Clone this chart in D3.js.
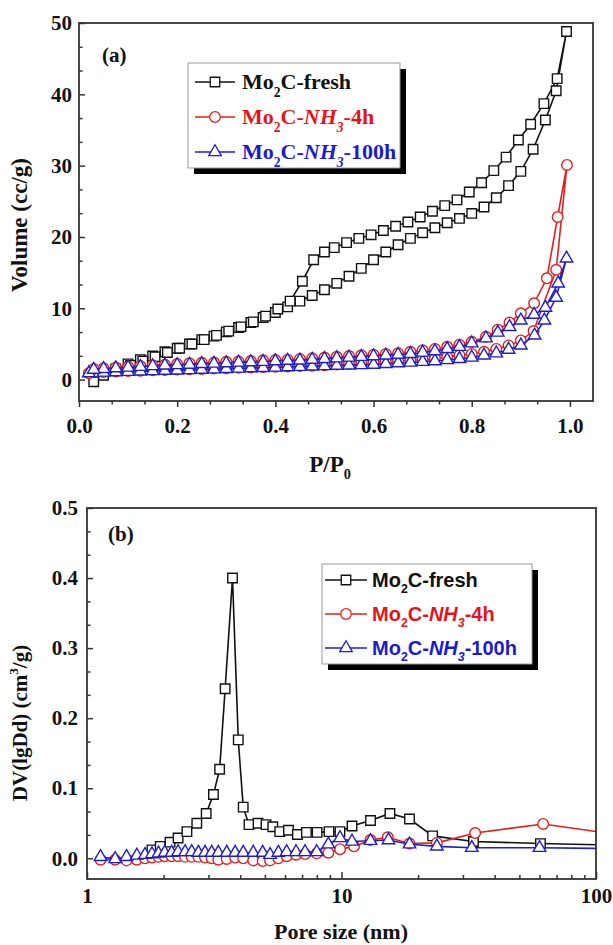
<!DOCTYPE html>
<html><head><meta charset="utf-8">
<script src="https://cdn.jsdelivr.net/npm/d3@7"></script>
<style>
body{margin:0;background:#fff}
svg{display:block}
</style></head><body>
<svg id="c" width="613" height="945"></svg>
<script>
// ---------------- DATA: panel (a) N2 isotherms ----------------
const freshAdsP = [0.03,0.05,0.075,0.10,0.125,0.15,0.175,0.20,0.225,0.25,0.275,0.30,0.325,0.35,0.375,0.40,0.425,0.45,0.475,0.50,0.525,0.55,0.575,0.60,0.625,0.65,0.675,0.70,0.725,0.75,0.775,0.80,0.825,0.85,0.875,0.90,0.925,0.95,0.972,0.993];
const freshAdsV = [-0.3,0.6,1.5,2.2,2.8,3.3,3.9,4.4,5.0,5.6,6.1,6.7,7.3,8.0,8.7,9.4,10.2,11.0,11.8,12.6,13.5,14.5,15.6,16.8,17.9,18.9,19.8,20.6,21.3,22.0,22.6,23.3,24.2,25.5,27.2,29.2,32.3,36.4,40.5,48.8];
const freshDesP = [0.974,0.947,0.92,0.895,0.87,0.845,0.82,0.795,0.77,0.745,0.72,0.695,0.67,0.645,0.62,0.595,0.57,0.545,0.52,0.50,0.478,0.455,0.43,0.405,0.38,0.355,0.33,0.305,0.28,0.255,0.23,0.205,0.18,0.155,0.13,0.105];
const freshDesV = [42.2,38.7,35.8,33.6,31.2,29.3,27.6,26.3,25.2,24.4,23.6,22.8,22.1,21.5,20.9,20.3,19.8,19.2,18.5,17.9,16.8,13.8,11.0,9.9,8.9,8.1,7.4,6.8,6.2,5.6,5.0,4.4,3.8,3.2,2.6,2.0];

const nh4AdsP = [0.02,0.05,0.075,0.10,0.125,0.15,0.175,0.20,0.225,0.25,0.275,0.30,0.325,0.35,0.375,0.40,0.425,0.45,0.475,0.50,0.525,0.55,0.575,0.60,0.625,0.65,0.675,0.70,0.725,0.75,0.775,0.80,0.825,0.85,0.875,0.90,0.926,0.972,0.994];
const nh4AdsV = [0.9,1.05,1.15,1.2,1.25,1.3,1.35,1.4,1.45,1.5,1.55,1.6,1.65,1.7,1.75,1.8,1.85,1.9,1.95,2.0,2.1,2.2,2.3,2.4,2.5,2.6,2.7,2.8,3.0,3.2,3.4,3.6,3.9,4.3,4.8,5.5,6.8,15.4,30.1];
const nh4DesP = [0.975,0.953,0.927,0.90,0.877,0.853,0.829,0.80,0.775,0.75,0.725,0.70,0.675,0.65,0.625,0.60,0.575,0.55,0.525,0.50,0.475,0.45,0.425,0.40,0.375,0.35,0.325,0.30,0.275,0.25,0.225,0.20,0.175,0.15,0.125,0.10,0.075,0.05,0.03];
const nh4DesV = [22.8,14.2,10.7,9.3,8.0,7.0,6.0,5.3,4.9,4.6,4.3,4.1,3.9,3.7,3.6,3.5,3.4,3.3,3.2,3.1,3.0,2.9,2.8,2.75,2.7,2.6,2.55,2.5,2.4,2.35,2.3,2.2,2.1,2.0,1.9,1.8,1.7,1.6,1.5];

const nh100AdsP = [0.02,0.05,0.075,0.10,0.125,0.15,0.175,0.20,0.225,0.25,0.275,0.30,0.325,0.35,0.375,0.40,0.425,0.45,0.475,0.50,0.525,0.55,0.575,0.60,0.625,0.65,0.675,0.70,0.725,0.75,0.775,0.80,0.825,0.85,0.875,0.90,0.928,0.948,0.972,0.993];
const nh100AdsV = [0.9,1.0,1.05,1.1,1.15,1.2,1.25,1.3,1.35,1.4,1.45,1.5,1.55,1.6,1.65,1.7,1.75,1.8,1.85,1.9,1.95,2.0,2.05,2.1,2.2,2.3,2.4,2.5,2.6,2.75,2.9,3.1,3.4,3.7,4.2,4.8,6.2,8.3,11.5,17.0];
const nh100DesP = [0.976,0.95,0.927,0.90,0.877,0.853,0.829,0.80,0.775,0.75,0.725,0.70,0.675,0.65,0.625,0.60,0.575,0.55,0.525,0.50,0.475,0.45,0.425,0.40,0.375,0.35,0.325,0.30,0.275,0.25,0.225,0.20,0.175,0.15,0.125,0.10,0.075,0.05,0.03];
const nh100DesV = [13.5,10.1,9.1,8.3,7.4,6.6,5.8,5.1,4.6,4.3,4.0,3.8,3.6,3.5,3.4,3.3,3.2,3.1,3.0,2.9,2.8,2.7,2.65,2.6,2.5,2.45,2.4,2.3,2.25,2.2,2.1,2.05,2.0,1.9,1.8,1.7,1.6,1.5,1.4];

const aXTicks = [0.0,0.2,0.4,0.6,0.8,1.0];
const aYTicks = [0,10,20,30,40,50];

// ---------------- DATA: panel (b) pore size distribution ----------------
const freshD  = [1.80,1.94,2.12,2.28,2.47,2.70,2.94,3.14,3.32,3.49,3.73,3.93,4.11,4.33,4.70,5.05,5.37,5.72,6.19,6.71,7.28,8.02,8.93,9.86,11.0,13.0,15.5,18.5,22.8,33.0,60.5,110];
const freshDV = [0.012,0.017,0.023,0.029,0.038,0.050,0.064,0.091,0.127,0.242,0.400,0.169,0.073,0.048,0.050,0.048,0.045,0.038,0.040,0.034,0.037,0.037,0.038,0.038,0.046,0.054,0.064,0.056,0.032,0.024,0.021,0.019];
const nh4D  = [1.13,1.29,1.43,1.57,1.69,1.80,1.91,2.02,2.15,2.28,2.43,2.58,2.74,2.91,3.09,3.28,3.54,3.82,4.11,4.50,4.90,5.24,5.65,6.09,6.63,7.19,7.99,8.88,9.87,11.2,13.0,15.2,18.5,23.7,33.5,62,110];
const nh4DV = [-0.002,-0.002,-0.003,-0.002,0.000,0.001,0.002,0.003,0.003,0.003,0.002,0.002,0.002,0.001,0.000,-0.002,-0.001,0.001,0.000,-0.003,-0.004,-0.003,0.000,0.003,0.005,0.006,0.007,0.008,0.013,0.017,0.026,0.030,0.021,0.022,0.036,0.049,0.036];
const nh100D  = [1.13,1.29,1.43,1.57,1.69,1.80,1.91,2.02,2.15,2.28,2.43,2.58,2.74,2.91,3.09,3.28,3.54,3.82,4.11,4.50,4.90,5.24,5.65,6.09,6.63,7.19,7.99,8.88,9.87,11.0,13.0,15.3,18.5,23.7,32.5,60,110];
const nh100DV = [0.002,-0.001,0.002,0.004,0.005,0.006,0.007,0.008,0.008,0.009,0.009,0.009,0.008,0.008,0.008,0.008,0.008,0.008,0.008,0.008,0.008,0.005,0.008,0.009,0.009,0.009,0.009,0.020,0.029,0.024,0.025,0.026,0.020,0.017,0.015,0.015,0.014];

const bXTicks = [1,10,100];
const bYTicks = [0.0,0.1,0.2,0.3,0.4,0.5];

const seriesColors = ["#111111","#e0201c","#1f1fc4"];
const legendColors = ["#111111","#e3151b","#1c1cc9"];

// ---------------- DRAWING ----------------
const svg = d3.select("#c");
const SERIF = '"Liberation Serif","Times New Roman",Times,serif';
const SANS = '"Liberation Sans",Arial,Helvetica,sans-serif';
const symbols = [d3.symbolSquare, d3.symbolCircle, d3.symbolTriangle];
const symSizes = [90, 88, 68];

function zip(xs, ys){ return xs.map((x,i)=>[x, ys[i]]); }

function styleAxis(g, fs){
  g.attr("font-family", SERIF).attr("font-size", fs).attr("font-weight","bold");
  g.select(".domain").remove();
  g.selectAll(".tick line").attr("stroke","#333").attr("stroke-width",1.5);
  g.selectAll(".tick text").attr("fill","#111");
}

function richText(parent, x, y, parts, size, family, color, anchor, rotate){
  const t = parent.append("text").attr("x",x).attr("y",y)
    .attr("font-family",family).attr("font-size",size).attr("font-weight","bold")
    .attr("fill",color).attr("text-anchor",anchor||"start");
  if (rotate) t.attr("transform",`rotate(${rotate},${x},${y})`);
  let shift = 0;
  parts.forEach(p=>{
    const ts = t.append("tspan").text(p.t);
    const target = p.sub ? size*0.32 : (p.sup ? -size*0.42 : 0);
    if (target - shift !== 0) ts.attr("dy", target - shift);
    shift = target;
    if (p.sub || p.sup) ts.attr("font-size", size*0.62);
    if (p.it) ts.attr("font-style","italic");
  });
  return t;
}

function drawSeries(g, xs, ys, data, i, clipId){
  const gg = g.append("g");
  if (clipId) gg.attr("clip-path",`url(#${clipId})`);
  const line = d3.line().x(d=>xs(d[0])).y(d=>ys(d[1]));
  gg.append("path").datum(data).attr("d",line).attr("fill","none")
    .attr("stroke",seriesColors[i]).attr("stroke-width",1.6);
  const sym = d3.symbol().type(symbols[i]).size(symSizes[i]);
  gg.selectAll("path.m").data(data).join("path").attr("class","m")
    .attr("d",sym).attr("transform",d=>`translate(${xs(d[0])},${ys(d[1])})`)
    .attr("fill","#fff").attr("stroke",seriesColors[i]).attr("stroke-width",1.4);
}

function legend(g, box, rows, sampleX0, sampleX1, textX, family, size, entries){
  g.append("rect").attr("x",box[0]+6).attr("y",box[1]+6).attr("width",box[2]).attr("height",box[3]).attr("fill","#000");
  g.append("rect").attr("x",box[0]).attr("y",box[1]).attr("width",box[2]).attr("height",box[3])
    .attr("fill","#fff").attr("stroke","#999").attr("stroke-width",1);
  entries.forEach((parts,i)=>{
    const cy = rows[i];
    g.append("line").attr("x1",sampleX0).attr("x2",sampleX1).attr("y1",cy).attr("y2",cy)
      .attr("stroke",seriesColors[i]).attr("stroke-width",1.5);
    g.append("path").attr("d",d3.symbol().type(symbols[i]).size(symSizes[i])())
      .attr("transform",`translate(${(sampleX0+sampleX1)/2},${cy})`)
      .attr("fill","#fff").attr("stroke",seriesColors[i]).attr("stroke-width",1.3);
    richText(g, textX, cy + size*0.34, parts, size, family, legendColors[i]);
  });
}

const legendParts = [
  [{t:"Mo"},{t:"2",sub:true},{t:"C-fresh"}],
  [{t:"Mo"},{t:"2",sub:true},{t:"C-"},{t:"NH",it:true},{t:"3",sub:true,it:true},{t:"-4h"}],
  [{t:"Mo"},{t:"2",sub:true},{t:"C-"},{t:"NH",it:true},{t:"3",sub:true,it:true},{t:"-100h"}]
];

// ----- Panel (a) -----
const ax = d3.scaleLinear().domain([0,1.047]).range([79,593]);
const ay = d3.scaleLinear().domain([-3,50]).range([401,23]);
const ga = svg.append("g");

ga.append("g").attr("transform","translate(79,0)")
  .call(d3.axisLeft(ay).tickValues(d3.range(0,51,10/3).filter(v=>Math.abs(v/10-Math.round(v/10))>0.01)).tickSize(-3.5).tickFormat(""))
  .call(g=>styleAxis(g,21));
ga.append("g").attr("transform","translate(79,0)")
  .call(d3.axisLeft(ay).tickValues(aYTicks).tickSize(-6).tickPadding(7).tickFormat(d3.format("d")))
  .call(g=>styleAxis(g,21));
ga.append("g").attr("transform","translate(0,401)")
  .call(d3.axisBottom(ax).tickValues(d3.range(0,16).map(k=>k/15).filter(v=>Math.abs(v*5-Math.round(v*5))>0.01)).tickSize(3.5).tickFormat(""))
  .call(g=>styleAxis(g,21));
ga.append("g").attr("transform","translate(0,401)")
  .call(d3.axisBottom(ax).tickValues(aXTicks).tickSize(6).tickPadding(11).tickFormat(d3.format(".1f")))
  .call(g=>styleAxis(g,21));

drawSeries(ga, ax, ay, zip(freshAdsP,freshAdsV).concat(zip(freshDesP,freshDesV)), 0);
drawSeries(ga, ax, ay, zip(nh4AdsP,nh4AdsV).concat(zip(nh4DesP,nh4DesV)), 1);
drawSeries(ga, ax, ay, zip(nh100AdsP,nh100AdsV).concat(zip(nh100DesP,nh100DesV)), 2);

ga.append("rect").attr("x",79).attr("y",23).attr("width",514).attr("height",378)
  .attr("fill","none").attr("stroke","#333").attr("stroke-width",1.8);

ga.append("text").attr("x",102).attr("y",62).attr("font-family",SERIF).attr("font-size",21)
  .attr("font-weight","bold").attr("fill","#111").text("(a)");

legend(ga, [188,63,212,105], [82,117,152], 195, 235, 242, SERIF, 22, legendParts);

richText(ga, 27, 225, [{t:"Volume (cc/g)"}], 23, SERIF, "#111", "middle", -90);
richText(ga, 330, 472, [{t:"P/P"},{t:"0",sub:true}], 23, SERIF, "#111", "middle");

// ----- Panel (b) -----
const bx = d3.scaleLog().domain([1,100]).range([87,596]);
const by = d3.scaleLinear().domain([-0.031,0.5]).range([880,508]);
const gb = svg.append("g");
svg.append("defs").append("clipPath").attr("id","clipb")
  .append("rect").attr("x",87).attr("y",508).attr("width",509).attr("height",372);

gb.append("g").attr("transform","translate(87,0)")
  .call(d3.axisLeft(by).tickValues(d3.range(0,16).map(k=>k/30).filter(v=>Math.abs(v*10-Math.round(v*10))>0.01)).tickSize(-3.5).tickFormat(""))
  .call(g=>styleAxis(g,21));
gb.append("g").attr("transform","translate(87,0)")
  .call(d3.axisLeft(by).tickValues(bYTicks).tickSize(-6).tickPadding(9).tickFormat(d3.format(".1f")))
  .call(g=>styleAxis(g,21));
const minorLog = [2,3,4,5,6,7,8,9,20,30,40,50,60,70,80,90];
gb.append("g").attr("transform","translate(0,879)")
  .call(d3.axisBottom(bx).tickValues(minorLog).tickSize(-4).tickFormat(""))
  .call(g=>styleAxis(g,21));
gb.append("g").attr("transform","translate(0,879)")
  .call(d3.axisBottom(bx).tickValues(bXTicks).tickSize(-7).tickPadding(9).tickFormat(d3.format("d")))
  .call(g=>styleAxis(g,21));

drawSeries(gb, bx, by, zip(freshD,freshDV), 0, "clipb");
drawSeries(gb, bx, by, zip(nh4D,nh4DV), 1, "clipb");
drawSeries(gb, bx, by, zip(nh100D,nh100DV), 2, "clipb");

gb.append("rect").attr("x",87).attr("y",508).attr("width",509).attr("height",371)
  .attr("fill","none").attr("stroke","#333").attr("stroke-width",1.8);

gb.append("text").attr("x",108).attr("y",541).attr("font-family",SERIF).attr("font-size",21)
  .attr("font-weight","bold").attr("fill","#111").text("(b)");

legend(gb, [322,564,210,100], [580,614,648], 325, 367, 372, SANS, 20, legendParts);

richText(gb, 27, 723, [{t:"DV(lgDd) (cm"},{t:"3",sup:true},{t:"/g)"}], 21, SERIF, "#111", "middle", -90);
richText(gb, 341, 939, [{t:"Pore size (nm)"}], 22, SERIF, "#111", "middle");
</script>
</body></html>
